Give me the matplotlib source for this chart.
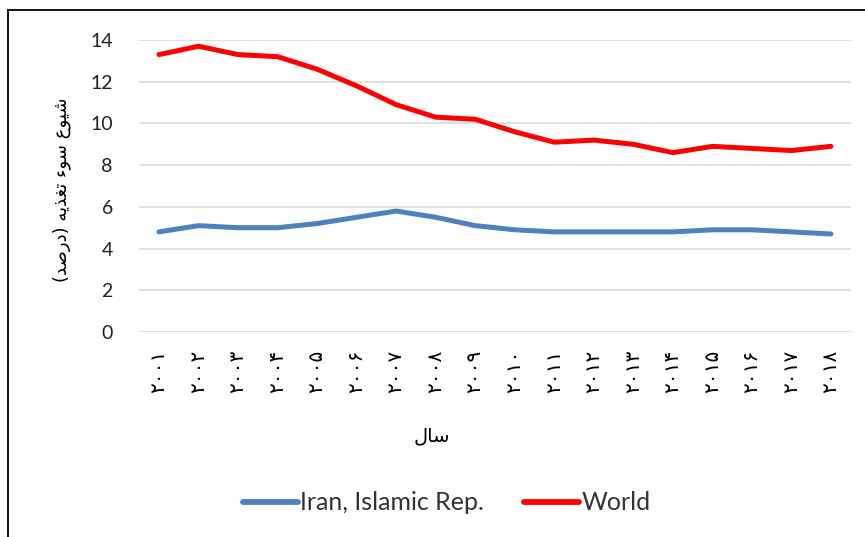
import matplotlib
matplotlib.use("Agg")
import matplotlib.pyplot as plt
from matplotlib.lines import Line2D

years = list(range(2001, 2019))
iran = [4.8, 5.1, 5.0, 5.0, 5.2, 5.5, 5.8, 5.5, 5.1, 4.9, 4.8, 4.8, 4.8, 4.8, 4.9, 4.9, 4.8, 4.7]
world = [13.3, 13.7, 13.3, 13.2, 12.6, 11.8, 10.9, 10.3, 10.2, 9.6, 9.1, 9.2, 9.0, 8.6, 8.9, 8.8, 8.7, 8.9]
series_names = ["Iran, Islamic Rep.", "World"]
x_title = "سال"
y_title = "شیوع سوء تغذیه (درصد)"
yticks = [0, 2, 4, 6, 8, 10, 12, 14]

PERSIAN_DIGITS = "۰۱۲۳۴۵۶۷۸۹"
def to_persian(n):
    return "".join(PERSIAN_DIGITS[int(c)] for c in str(n))

# minimal Arabic shaping (isolated, final, initial, medial) for display
FORMS = {
    "ا": ("\uFE8D", "\uFE8E", None, None),
    "د": ("\uFEA9", "\uFEAA", None, None),
    "ذ": ("\uFEAB", "\uFEAC", None, None),
    "ر": ("\uFEAD", "\uFEAE", None, None),
    "و": ("\uFEED", "\uFEEE", None, None),
    "ء": ("\uFE80", None, None, None),
    "س": ("\uFEB1", "\uFEB2", "\uFEB3", "\uFEB4"),
    "ش": ("\uFEB5", "\uFEB6", "\uFEB7", "\uFEB8"),
    "ص": ("\uFEB9", "\uFEBA", "\uFEBB", "\uFEBC"),
    "ع": ("\uFEC9", "\uFECA", "\uFECB", "\uFECC"),
    "غ": ("\uFECD", "\uFECE", "\uFECF", "\uFED0"),
    "ت": ("\uFE95", "\uFE96", "\uFE97", "\uFE98"),
    "ه": ("\uFEE9", "\uFEEA", "\uFEEB", "\uFEEC"),
    "ل": ("\uFEDD", "\uFEDE", "\uFEDF", "\uFEE0"),
    "ی": ("\uFBFC", "\uFBFD", "\uFEF3", "\uFEF4"),
}
def joins_left(ch):
    f = FORMS.get(ch)
    return f is not None and f[2] is not None
def joins_right(ch):
    f = FORMS.get(ch)
    return f is not None and f[1] is not None
def shape(text):
    out = []
    for i, ch in enumerate(text):
        if ch not in FORMS:
            out.append(ch)
            continue
        prev = text[i - 1] if i > 0 else ""
        nxt = text[i + 1] if i + 1 < len(text) else ""
        conn_prev = joins_left(prev) and joins_right(ch)
        conn_next = joins_left(ch) and joins_right(nxt)
        iso, fin, ini, med = FORMS[ch]
        if conn_prev and conn_next:
            out.append(med)
        elif conn_prev:
            out.append(fin)
        elif conn_next:
            out.append(ini)
        else:
            out.append(iso)
    vis = "".join(reversed(out))
    return vis.translate(str.maketrans("()", ")("))

W, H = 865, 537
fig = plt.figure(figsize=(W / 100, H / 100), dpi=100)
ax = fig.add_axes([139.25 / W, 1 - 332 / H, (850.75 - 139.25) / W, (332 - 40) / H])

xs = list(range(len(years)))
ax.plot(xs, iran, color="#4F81BD", lw=3.6, solid_capstyle="round", label=series_names[0], zorder=3)
ax.plot(xs, world, color="#FF0000", lw=3.6, solid_capstyle="round", label=series_names[1], zorder=3)

ax.set_xlim(-0.5, len(years) - 0.5)
ax.set_ylim(0, 14)
ax.set_yticks(yticks)
ax.set_yticklabels([str(v) for v in yticks], fontfamily="Lato", fontsize=14, color="#222222")
ax.set_xticks(xs)
ax.set_xticklabels([to_persian(y) for y in years], rotation=90, fontfamily="DejaVu Sans",
                   fontsize=14.5, color="#000000", va="top", ha="center")
ax.tick_params(axis="y", length=0, pad=19)
ax.tick_params(axis="x", length=0, pad=13)
ax.grid(axis="y", color="#D9D9D9", lw=1.2, zorder=0)
for s in ax.spines.values():
    s.set_visible(False)

fig.text(432 / W, 1 - 436 / H, shape(x_title), ha="center", va="center",
         fontfamily="DejaVu Sans", fontsize=14, color="#000000")
fig.text(62 / W, 1 - 190 / H, shape(y_title), ha="center", va="center", rotation=90,
         fontfamily="DejaVu Sans", fontsize=13, color="#000000")

leg = fig.legend(loc="center", bbox_to_anchor=(447 / W, 1 - 503 / H), ncol=2, frameon=False,
                 prop={"family": "Lato", "size": 18}, handlelength=2.2, handletextpad=0.1,
                 columnspacing=1.6, labelcolor="#333333")
for l in leg.get_lines():
    l.set_linewidth(4.2)

# outer frame (top and left edges visible)
fig.add_artist(Line2D([8 / W, 8 / W], [0, 1 - 10 / H], transform=fig.transFigure, color="#111111", lw=1.4))
fig.add_artist(Line2D([8 / W, 1], [1 - 10 / H, 1 - 10 / H], transform=fig.transFigure, color="#111111", lw=1.4))

fig.savefig("out.png", dpi=100)
